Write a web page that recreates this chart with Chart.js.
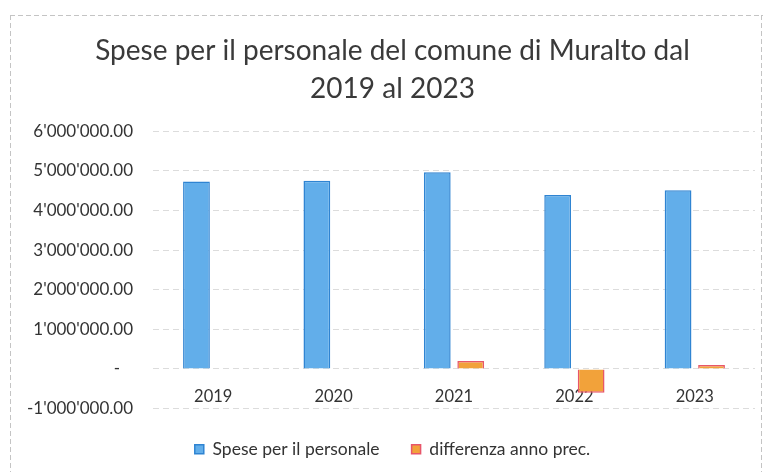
<!DOCTYPE html>
<html>
<head>
<meta charset="utf-8">
<script src="https://cdn.jsdelivr.net/npm/chart.js@4"></script>
<style>
  html, body { margin: 0; padding: 0; background: #fff; }
  #wrap { position: relative; width: 763px; height: 472px; }
</style>
</head>
<body>
<div id="wrap"><canvas id="chart"></canvas></div>
<script>
const years = ['2019', '2020', '2021', '2022', '2023'];
const spese = [4730000, 4750000, 4960000, 4390000, 4510000];
const differenza = [null, null, 200000, -600000, 100000];
const yMin = -1000000;
const yMax = 6000000;
const yStep = 1000000;

const FONT = "Lato, 'Open Sans', sans-serif";

const fmt = (v) => {
    if (v === 0) return '-   ';
    const neg = v < 0;
    const s = Math.abs(v).toFixed(2);
    const [intPart, dec] = s.split('.');
    const grouped = intPart.replace(/\B(?=(\d{3})+(?!\d))/g, "'");
    return (neg ? '-' : '') + grouped + '.' + dec;
};

// faint frame lines of the scanned chart border
const frame = {
    id: 'frame',
    beforeDraw(chart) {
        const c = chart.ctx;
        c.save();
        c.strokeStyle = '#c4c4c4';
        c.lineWidth = 1;
        c.setLineDash([5, 3]);
        c.beginPath();
        c.moveTo(10, 15.5);
        c.lineTo(763, 15.5);
        c.moveTo(10.5, 15);
        c.lineTo(10.5, 472);
        c.moveTo(761.5, 15);
        c.lineTo(761.5, 472);
        c.stroke();
        c.restore();
    }
};

const ctx = document.getElementById('chart');
const chart = new Chart(ctx, {
    type: 'bar',
    data: {
        labels: years,
        datasets: [{
            label: 'Spese per il personale',
            data: spese,
            backgroundColor: '#62aeea',
            borderColor: '#2f84d2',
            borderWidth: 1.5
        }, {
            label: 'differenza anno prec.',
            data: differenza,
            backgroundColor: '#f2a23a',
            borderColor: '#e8566a',
            borderWidth: 1.5
        }]
    },
    options: {
        responsive: true,
        maintainAspectRatio: false,
        animation: false,
        categoryPercentage: 0.556,
        barPercentage: 0.8,
        layout: {
            padding: { left: 22, right: 0, top: 0, bottom: 4 }
        },
        scales: {
            x: {
                position: { y: 0 },
                grid: { display: false },
                border: { display: false },
                ticks: {
                    color: '#333',
                    padding: 10,
                    font: { family: FONT, size: 16.5 }
                }
            },
            y: {
                min: yMin,
                max: yMax,
                afterFit: (s) => { s.width = 131; },
                grid: { color: '#dcdcdc', drawTicks: false },
                border: { display: false, dash: [6, 4] },
                ticks: {
                    stepSize: yStep,
                    padding: 20,
                    color: '#333',
                    font: { family: FONT, size: 17 },
                    callback: (v) => fmt(v)
                }
            },
            // empty right-hand axis, only keeps a small margin right of the plot
            yRight: {
                position: 'right',
                min: yMin,
                max: yMax,
                afterFit: (s) => { s.width = 8; },
                grid: { display: false },
                border: { display: false },
                ticks: { display: false }
            }
        },
        plugins: {
            title: {
                display: true,
                text: ['Spese per il personale del comune di Muralto dal', '2019 al 2023'],
                color: '#3a3a3a',
                font: { family: FONT, size: 28, weight: 'normal', lineHeight: 1.36 },
                padding: { top: 32, bottom: 23 }
            },
            legend: {
                position: 'bottom',
                labels: {
                    color: '#333',
                    boxWidth: 9,
                    boxHeight: 9,
                    padding: 32,
                    font: { family: FONT, size: 17.5 }
                }
            },
            tooltip: { enabled: false }
        }
    },
    plugins: [frame]
});
</script>
</body>
</html>
